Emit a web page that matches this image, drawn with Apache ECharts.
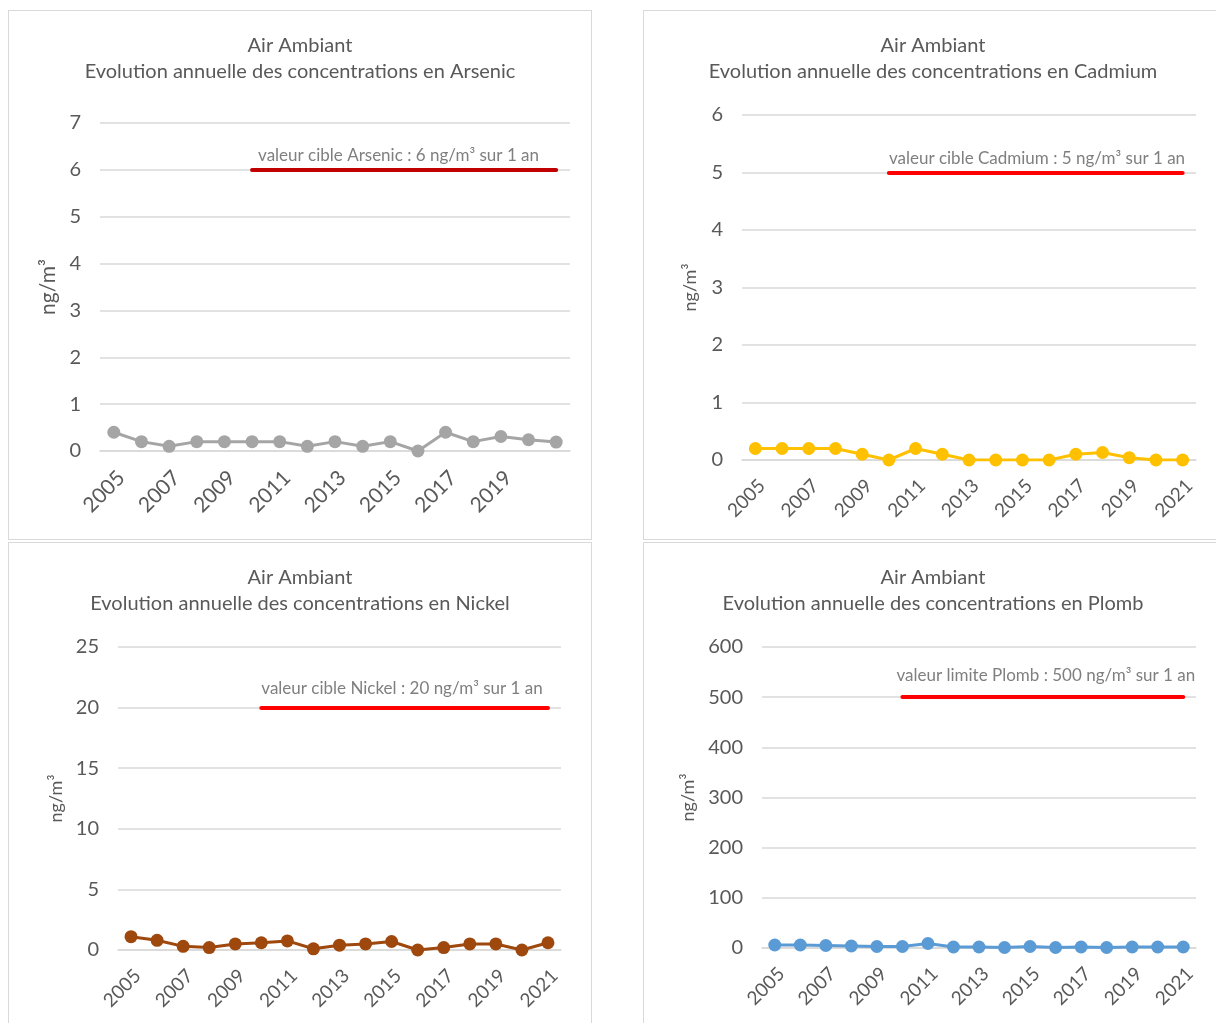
<!DOCTYPE html>
<html>
<head>
<meta charset="utf-8">
<script src="https://cdn.jsdelivr.net/npm/echarts@6/dist/echarts.min.js"></script>
<style>
  body { margin: 0; background: #fff; width: 1216px; height: 1023px; overflow: hidden; position: relative; }
  .panel { position: absolute; box-sizing: border-box; border: 1px solid #d9d9d9; background: #fff; }
</style>
</head>
<body>
<div class="panel" id="arsenic" style="left:8px;top:10px;width:584px;height:530px"></div>
<div class="panel" id="cadmium" style="left:643px;top:10px;width:580px;height:530px"></div>
<div class="panel" id="nickel" style="left:8px;top:542px;width:584px;height:490px"></div>
<div class="panel" id="plomb" style="left:643px;top:542px;width:580px;height:490px"></div>
<script>
const FONT = "Lato, 'Open Sans', sans-serif";
const years = ["2005", "2006", "2007", "2008", "2009", "2010", "2011", "2012", "2013",
  "2014", "2015", "2016", "2017", "2018", "2019", "2020", "2021"];
const limitFrom = "2010";

// annual means, ng/m3
const arsenic = [0.4, 0.2, 0.1, 0.2, 0.2, 0.2, 0.2, 0.1, 0.2, 0.1, 0.2, 0, 0.4, 0.2, 0.31, 0.24, 0.19];
const cadmium = [0.2, 0.2, 0.2, 0.2, 0.1, 0, 0.2, 0.1, 0, 0, 0, 0, 0.1, 0.13, 0.04, 0, 0];
const nickel = [1.1, 0.8, 0.3, 0.2, 0.5, 0.6, 0.75, 0.1, 0.4, 0.5, 0.7, 0, 0.2, 0.5, 0.5, 0, 0.6];
const plomb = [6, 6, 5, 4, 3, 3, 9, 2, 2, 1, 3, 1, 2, 1, 2, 2, 2];

// regulatory thresholds
const arsenicLimit = 6;
const cadmiumLimit = 5;
const nickelLimit = 20;
const plombLimit = 500;

const panels = [
  { id: "arsenic", name: "Arsenic", values: arsenic, color: "#a5a5a5",
    limit: arsenicLimit, limitColor: "#c00000", limitText: "valeur cible Arsenic : 6 ng/m³ sur 1 an",
    max: 7, step: 1, hideLast: true,
    grid: { left: 91, right: 21, top: 112, bottom: 88 },
    nameGap: 40, nameSize: 21, xSize: 21, labelDist: [6, 6] },
  { id: "cadmium", name: "Cadmium", values: cadmium, color: "#ffc000",
    limit: cadmiumLimit, limitColor: "#ff0000", limitText: "valeur cible Cadmium : 5 ng/m³ sur 1 an",
    max: 6, step: 1, hideLast: false,
    grid: { left: 98, right: 26, top: 104, bottom: 79 },
    nameGap: 43, nameSize: 18, xSize: 19, labelDist: [0, 5] },
  { id: "nickel", name: "Nickel", values: nickel, color: "#9e480e",
    limit: nickelLimit, limitColor: "#ff0000", limitText: "valeur cible Nickel : 20 ng/m³ sur 1 an",
    max: 25, step: 5, hideLast: false,
    grid: { left: 109, right: 30, top: 104, bottom: 81 },
    nameGap: 52, nameSize: 18, xSize: 19, labelDist: [0, 11] },
  { id: "plomb", name: "Plomb", values: plomb, color: "#5b9bd5",
    limit: plombLimit, limitColor: "#ff0000", limitText: "valeur limite Plomb : 500 ng/m³ sur 1 an",
    max: 600, step: 100, hideLast: false,
    grid: { left: 118, right: 26, top: 104, bottom: 83 },
    nameGap: 63, nameSize: 18, xSize: 19, labelDist: [-6, 13] }
];

function panelOption(p) {
  return {
    animation: false,
    textStyle: { fontFamily: FONT },
    title: {
      text: "Air Ambiant\nEvolution annuelle des concentrations en " + p.name,
      left: "center", top: 22, padding: 0,
      textStyle: { fontFamily: FONT, fontSize: 20, fontWeight: "normal", color: "#595959", lineHeight: 26 }
    },
    grid: p.grid,
    xAxis: {
      type: "category", data: years, boundaryGap: true,
      axisLine: { lineStyle: { color: "#d9d9d9", width: 1.5 } },
      axisTick: { show: false },
      axisLabel: {
        interval: 1, rotate: 45, margin: 16, verticalAlign: "top",
        fontSize: p.xSize, color: "#595959", fontFamily: FONT,
        formatter: v => (p.hideLast && v === years[years.length - 1] ? "" : v)
      }
    },
    yAxis: {
      type: "value", min: 0, max: p.max, interval: p.step,
      name: "ng/m³", nameLocation: "middle", nameGap: p.nameGap,
      nameTextStyle: { fontSize: p.nameSize, color: "#595959", fontFamily: FONT },
      axisLine: { show: false }, axisTick: { show: false },
      axisLabel: { fontSize: 20, color: "#595959", margin: 19, fontFamily: FONT },
      splitLine: { lineStyle: { color: "#d9d9d9", width: 1.5 } }
    },
    series: [{
      type: "line", data: p.values, color: p.color,
      symbol: "circle", symbolSize: 13,
      lineStyle: { width: 3, color: p.color },
      itemStyle: { color: p.color },
      markLine: {
        silent: true, symbol: ["none", "none"],
        lineStyle: { color: p.limitColor, width: 4, type: "solid", cap: "round" },
        label: {
          position: "insideStartTop", formatter: p.limitText, distance: p.labelDist,
          color: "#7f7f7f", fontSize: 17, fontFamily: FONT
        },
        emphasis: { disabled: true },
        data: [[{ coord: [limitFrom, p.limit] }, { coord: [years[years.length - 1], p.limit] }]]
      }
    }]
  };
}

panels.forEach(p => {
  const chart = echarts.init(document.getElementById(p.id), null, { renderer: "canvas" });
  chart.setOption(panelOption(p));
});
</script>
</body>
</html>
